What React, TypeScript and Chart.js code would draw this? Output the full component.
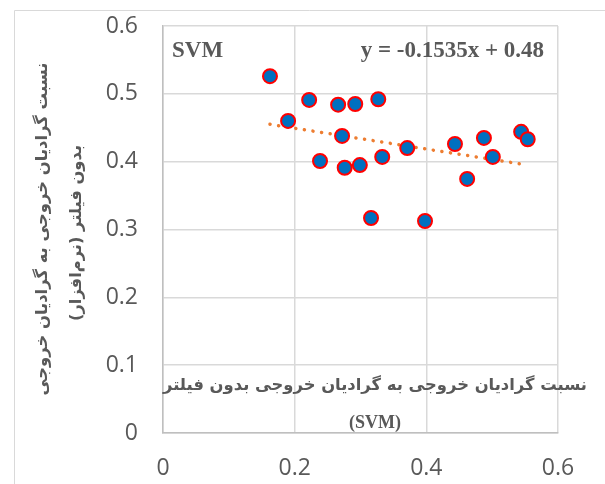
import React, { useEffect, useRef } from "react";
import { Chart, registerables } from "chart.js";

Chart.register(...registerables);

// Ratio pairs for the SVM model
const xValues = [
  0.1625, 0.19, 0.222, 0.2385, 0.266, 0.272, 0.276, 0.292, 0.299, 0.316,
  0.327, 0.333, 0.371, 0.398, 0.4435, 0.462, 0.4875, 0.501, 0.544, 0.554,
];
const yValues = [
  0.526, 0.46, 0.491, 0.401, 0.484, 0.438, 0.391, 0.485, 0.395, 0.317,
  0.492, 0.407, 0.42, 0.3125, 0.426, 0.3745, 0.435, 0.407, 0.444, 0.433,
];

// Linear trend: y = slope * x + intercept
const trendSlope = -0.1535;
const trendIntercept = 0.48;

const xTicks = [0, 0.2, 0.4, 0.6];
const yTicks = [0, 0.1, 0.2, 0.3, 0.4, 0.5, 0.6];

const modelLabel = "SVM";
const equationLabel = "y = -0.1535x + 0.48";
const xTitleLines = ["نسبت گرادیان خروجی به گرادیان خروجی بدون فیلتر", "(SVM)"];
const yTitleLines = ["نسبت گرادیان خروجی به گرادیان خروجی", "بدون فیلتر (نرم‌افزار)"];

const W = 605;
const H = 484;

const overlayPlugin = {
  id: "overlayText",
  afterDraw(chart: any) {
    const ctx = chart.ctx as CanvasRenderingContext2D;
    const area = chart.chartArea;
    ctx.save();

    // outer frame
    ctx.strokeStyle = "#D9D9D9";
    ctx.lineWidth = 1;
    ctx.beginPath();
    ctx.moveTo(14.5, H);
    ctx.lineTo(14.5, 10.5);
    ctx.lineTo(W, 10.5);
    ctx.stroke();

    ctx.fillStyle = "#595959";
    ctx.textBaseline = "alphabetic";

    // model name and trend equation
    ctx.font = "bold 23px 'Liberation Serif', 'Times New Roman', serif";
    ctx.textAlign = "left";
    ctx.fillText(modelLabel, area.left + 9, 57);
    ctx.textAlign = "right";
    ctx.fillText(equationLabel, area.right - 14, 57);

    // x-axis title laid over the plot
    const cx = 375;
    ctx.textAlign = "center";
    ctx.textBaseline = "middle";
    ctx.font = "bold 16.4px 'DejaVu Sans', 'Noto Sans', sans-serif";
    ctx.direction = "rtl";
    ctx.fillText(xTitleLines[0], cx, 386, 424);
    ctx.direction = "ltr";
    ctx.font = "bold 18px 'Liberation Serif', serif";
    ctx.fillText(xTitleLines[1], cx, 423);

    // y-axis title, rotated
    ctx.font = "bold 16.4px 'DejaVu Sans', 'Noto Sans', sans-serif";
    ctx.direction = "rtl";
    ctx.save();
    ctx.translate(43, 229);
    ctx.rotate(-Math.PI / 2);
    ctx.fillText(yTitleLines[0], 0, 0, 337);
    ctx.restore();
    ctx.save();
    ctx.translate(77, 233);
    ctx.rotate(-Math.PI / 2);
    ctx.fillText(yTitleLines[1], 0, 0, 176);
    ctx.restore();

    ctx.restore();
  },
};

export default function App() {
  const canvasRef = useRef<HTMLCanvasElement | null>(null);

  useEffect(() => {
    if (!canvasRef.current) return;
    const points = xValues.map((x, i) => ({ x, y: yValues[i] }));
    const xMin = Math.min(...xValues);
    const xMax = Math.max(...xValues);
    const trend = [
      { x: xMin, y: trendSlope * xMin + trendIntercept },
      { x: xMax, y: trendSlope * xMax + trendIntercept },
    ];

    const chart = new Chart(canvasRef.current, {
      type: "scatter",
      data: {
        datasets: [
          {
            type: "line",
            data: trend,
            borderColor: "#ED7D31",
            borderWidth: 3.5,
            borderDash: [0.1, 8.6],
            borderCapStyle: "round",
            pointRadius: 0,
            fill: false,
            order: 2,
          } as any,
          {
            data: points,
            backgroundColor: "#0070C0",
            borderColor: "#FF0000",
            borderWidth: 2,
            pointRadius: 7,
            order: 1,
          },
        ],
      },
      options: {
        animation: false,
        responsive: false,
        events: [],
        layout: { padding: { left: 0, right: 47, top: 26, bottom: 0 } },
        plugins: {
          legend: { display: false },
          tooltip: { enabled: false },
        },
        scales: {
          x: {
            type: "linear",
            min: 0,
            max: 0.6,
            afterBuildTicks: (s: any) => {
              s.ticks = xTicks.map((v) => ({ value: v }));
            },
            afterFit: (s: any) => {
              s.height = 51;
              s.paddingLeft = 0;
              s.paddingRight = 0;
            },
            border: { color: "#BFBFBF", width: 1.5 },
            grid: { color: "#D9D9D9", lineWidth: 1.5, drawTicks: false },
            ticks: {
              padding: 22,
              color: "#595959",
              font: { family: "'Open Sans', sans-serif", size: 23 },
              callback: (v: any) => String(v),
            },
          },
          y: {
            type: "linear",
            min: 0,
            max: 0.6,
            afterBuildTicks: (s: any) => {
              s.ticks = yTicks.map((v) => ({ value: v }));
            },
            afterFit: (s: any) => {
              s.width = 163;
              s.paddingTop = 0;
              s.paddingBottom = 0;
            },
            border: { color: "#BFBFBF", width: 1.5 },
            grid: { color: "#D9D9D9", lineWidth: 1.5, drawTicks: false },
            ticks: {
              padding: 25,
              color: "#595959",
              font: { family: "'Open Sans', sans-serif", size: 23 },
              callback: (v: any) => String(v),
            },
          },
        },
      },
      plugins: [overlayPlugin],
    });
    return () => chart.destroy();
  }, []);

  return (
    <div style={{ position: "fixed", left: 0, top: 0, width: W, height: H, background: "#fff" }}>
      <canvas ref={canvasRef} width={W} height={H} style={{ width: W, height: H }} />
    </div>
  );
}
